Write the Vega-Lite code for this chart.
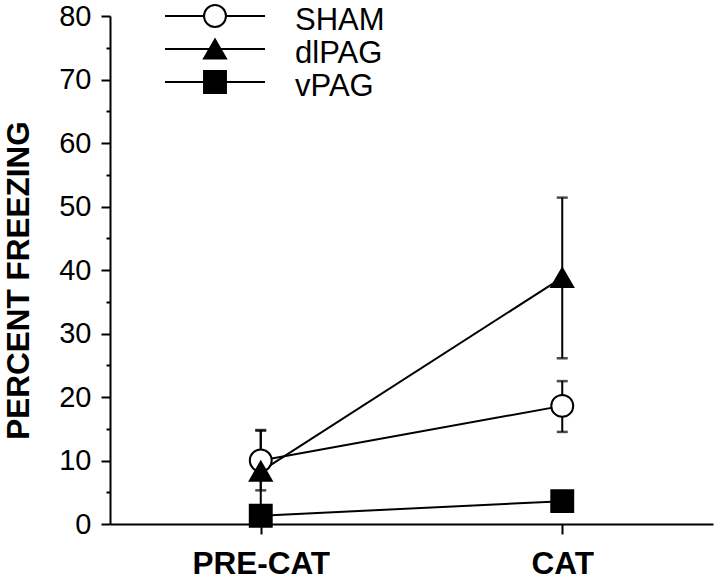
{
  "$schema": "https://vega.github.io/schema/vega-lite/v6.json",
  "width": 603,
  "height": 508,
  "autosize": {"type": "none"},
  "padding": {"left": 110, "top": 16, "right": 7, "bottom": 58},
  "background": "white",
  "config": {
    "view": {"stroke": null},
    "font": "Liberation Sans",
    "axis": {"domainColor": "black", "tickColor": "black", "labelColor": "black", "titleColor": "black", "grid": false, "domainWidth": 2, "tickWidth": 2}
  },
  "data": {
    "values": [
      {"group": "SHAM", "phase": "PRE-CAT", "freezing": 10.0, "lo": 5.3, "hi": 14.7},
      {"group": "SHAM", "phase": "CAT", "freezing": 18.6, "lo": 14.5, "hi": 22.5},
      {"group": "dlPAG", "phase": "PRE-CAT", "freezing": 8.3, "lo": 1.8, "hi": 14.8},
      {"group": "dlPAG", "phase": "CAT", "freezing": 38.8, "lo": 26.1, "hi": 51.4},
      {"group": "vPAG", "phase": "PRE-CAT", "freezing": 1.3, "lo": null, "hi": null},
      {"group": "vPAG", "phase": "CAT", "freezing": 3.6, "lo": null, "hi": null}
    ]
  },
  "encoding": {
    "x": {
      "field": "phase", "type": "ordinal",
      "scale": {"type": "point", "domain": ["PRE-CAT", "CAT"], "padding": 0.5},
      "axis": {"title": null, "labelFont": "Liberation Sans", "labelFontWeight": "bold", "labelFontSize": 31.5, "labelPadding": 14, "tickSize": 10, "labelAngle": 0}
    }
  },
  "layer": [
    {
      "transform": [{"filter": "datum.lo != null"}],
      "mark": {"type": "rule", "strokeWidth": 2, "color": "black"},
      "encoding": {
        "y": {"field": "lo", "type": "quantitative", "scale": {"domain": [0, 80], "nice": false},
          "axis": {"title": "PERCENT FREEZING", "values": [0, 5, 10, 15, 20, 25, 30, 35, 40, 45, 50, 55, 60, 65, 70, 75, 80], "labelExpr": "datum.value % 10 === 0 ? datum.label : ''", "tickSize": {"condition": {"test": "datum.value % 10 === 0", "value": 9}, "value": 4}, "labelFont": "Liberation Sans", "labelFontSize": 29, "labelPadding": 10, "titleFont": "Liberation Sans", "titleFontSize": 31.5, "titleFontWeight": "bold", "titleX": -82, "titleY": 264, "titleBaseline": "alphabetic", "titleAngle": 270}},
        "y2": {"field": "hi"}
      }
    },
    {
      "transform": [{"filter": "datum.lo != null"}],
      "mark": {"type": "tick", "color": "black", "thickness": 2.5, "size": 11},
      "encoding": {
        "y": {"field": "hi", "type": "quantitative", "scale": {"domain": [0, 80], "nice": false},
          "axis": {"title": "PERCENT FREEZING", "values": [0, 5, 10, 15, 20, 25, 30, 35, 40, 45, 50, 55, 60, 65, 70, 75, 80], "labelExpr": "datum.value % 10 === 0 ? datum.label : ''", "tickSize": {"condition": {"test": "datum.value % 10 === 0", "value": 9}, "value": 4}, "labelFont": "Liberation Sans", "labelFontSize": 29, "labelPadding": 10, "titleFont": "Liberation Sans", "titleFontSize": 31.5, "titleFontWeight": "bold", "titleX": -82, "titleY": 264, "titleBaseline": "alphabetic", "titleAngle": 270}}
      }
    },
    {
      "transform": [{"filter": "datum.lo != null"}],
      "mark": {"type": "tick", "color": "black", "thickness": 2.5, "size": 11},
      "encoding": {
        "y": {"field": "lo", "type": "quantitative", "scale": {"domain": [0, 80], "nice": false},
          "axis": {"title": "PERCENT FREEZING", "values": [0, 5, 10, 15, 20, 25, 30, 35, 40, 45, 50, 55, 60, 65, 70, 75, 80], "labelExpr": "datum.value % 10 === 0 ? datum.label : ''", "tickSize": {"condition": {"test": "datum.value % 10 === 0", "value": 9}, "value": 4}, "labelFont": "Liberation Sans", "labelFontSize": 29, "labelPadding": 10, "titleFont": "Liberation Sans", "titleFontSize": 31.5, "titleFontWeight": "bold", "titleX": -82, "titleY": 264, "titleBaseline": "alphabetic", "titleAngle": 270}}
      }
    },
    {
      "mark": {"type": "line", "strokeWidth": 2},
      "encoding": {
        "y": {"field": "freezing", "type": "quantitative", "scale": {"domain": [0, 80], "nice": false},
          "axis": {"title": "PERCENT FREEZING", "values": [0, 5, 10, 15, 20, 25, 30, 35, 40, 45, 50, 55, 60, 65, 70, 75, 80], "labelExpr": "datum.value % 10 === 0 ? datum.label : ''", "tickSize": {"condition": {"test": "datum.value % 10 === 0", "value": 9}, "value": 4}, "labelFont": "Liberation Sans", "labelFontSize": 29, "labelPadding": 10, "titleFont": "Liberation Sans", "titleFontSize": 31.5, "titleFontWeight": "bold", "titleX": -82, "titleY": 264, "titleBaseline": "alphabetic", "titleAngle": 270}},
        "color": {
          "field": "group", "type": "nominal",
          "scale": {"domain": ["SHAM", "dlPAG", "vPAG"], "range": ["black", "black", "black"]},
          "legend": {"title": null, "orient": "none", "legendX": 54, "legendY": -15.5, "padding": 0, "rowPadding": 1, "symbolType": "stroke", "symbolSize": 10000, "symbolStrokeWidth": 2, "symbolStrokeColor": "black", "clipHeight": 31, "labelFontSize": 31, "labelExpr": "' '"}
        }
      }
    },
    {
      "mark": {"type": "point", "filled": true, "size": 480, "strokeWidth": 2},
      "encoding": {
        "y": {"field": "freezing", "type": "quantitative", "scale": {"domain": [0, 80], "nice": false},
          "axis": {"title": "PERCENT FREEZING", "values": [0, 5, 10, 15, 20, 25, 30, 35, 40, 45, 50, 55, 60, 65, 70, 75, 80], "labelExpr": "datum.value % 10 === 0 ? datum.label : ''", "tickSize": {"condition": {"test": "datum.value % 10 === 0", "value": 9}, "value": 4}, "labelFont": "Liberation Sans", "labelFontSize": 29, "labelPadding": 10, "titleFont": "Liberation Sans", "titleFontSize": 31.5, "titleFontWeight": "bold", "titleX": -82, "titleY": 264, "titleBaseline": "alphabetic", "titleAngle": 270}},
        "shape": {
          "field": "group", "type": "nominal",
          "scale": {"range": ["circle", "triangle-up", "square"]},
          "legend": {"title": null, "orient": "none", "legendX": 89.5, "legendY": -15.5, "padding": 0, "rowPadding": 1, "symbolSize": 480, "symbolStrokeWidth": 2, "symbolOpacity": 1, "clipHeight": 31, "labelFontSize": 31, "labelExpr": "' '", "labelOffset": 64.5}
        },
        "fill": {
          "field": "group", "type": "nominal",
          "scale": {"range": ["white", "black", "black"]},
          "legend": {"title": null, "orient": "none", "legendX": 89.5, "legendY": -15.5, "padding": 0, "rowPadding": 1, "symbolSize": 480, "symbolStrokeWidth": 2, "symbolOpacity": 1, "clipHeight": 31, "labelFontSize": 31, "labelExpr": "' '", "labelOffset": 64.5}
        },
        "stroke": {
          "field": "group", "type": "nominal",
          "scale": {"range": ["black", "black", "black"]},
          "legend": {"title": null, "orient": "none", "legendX": 89.5, "legendY": -15.5, "padding": 0, "rowPadding": 1, "symbolSize": 480, "symbolStrokeWidth": 2, "symbolOpacity": 1, "clipHeight": 31, "labelFontSize": 31, "labelExpr": "' '", "labelOffset": 64.5}
        },
        "opacity": {
          "field": "group", "type": "nominal",
          "scale": {"type": "ordinal", "domain": {"unionWith": ["SHAM", "dlPAG", "vPAG"]}, "range": [1, 1, 1]},
          "legend": {"title": null, "orient": "none", "legendX": 89.5, "legendY": -11, "padding": 0, "rowPadding": 1, "symbolSize": 0, "symbolStrokeWidth": 0, "clipHeight": 31, "labelFontSize": 31, "labelFont": "Liberation Sans", "labelColor": "black", "labelOffset": 64.5}
        }
      }
    }
  ]
}
